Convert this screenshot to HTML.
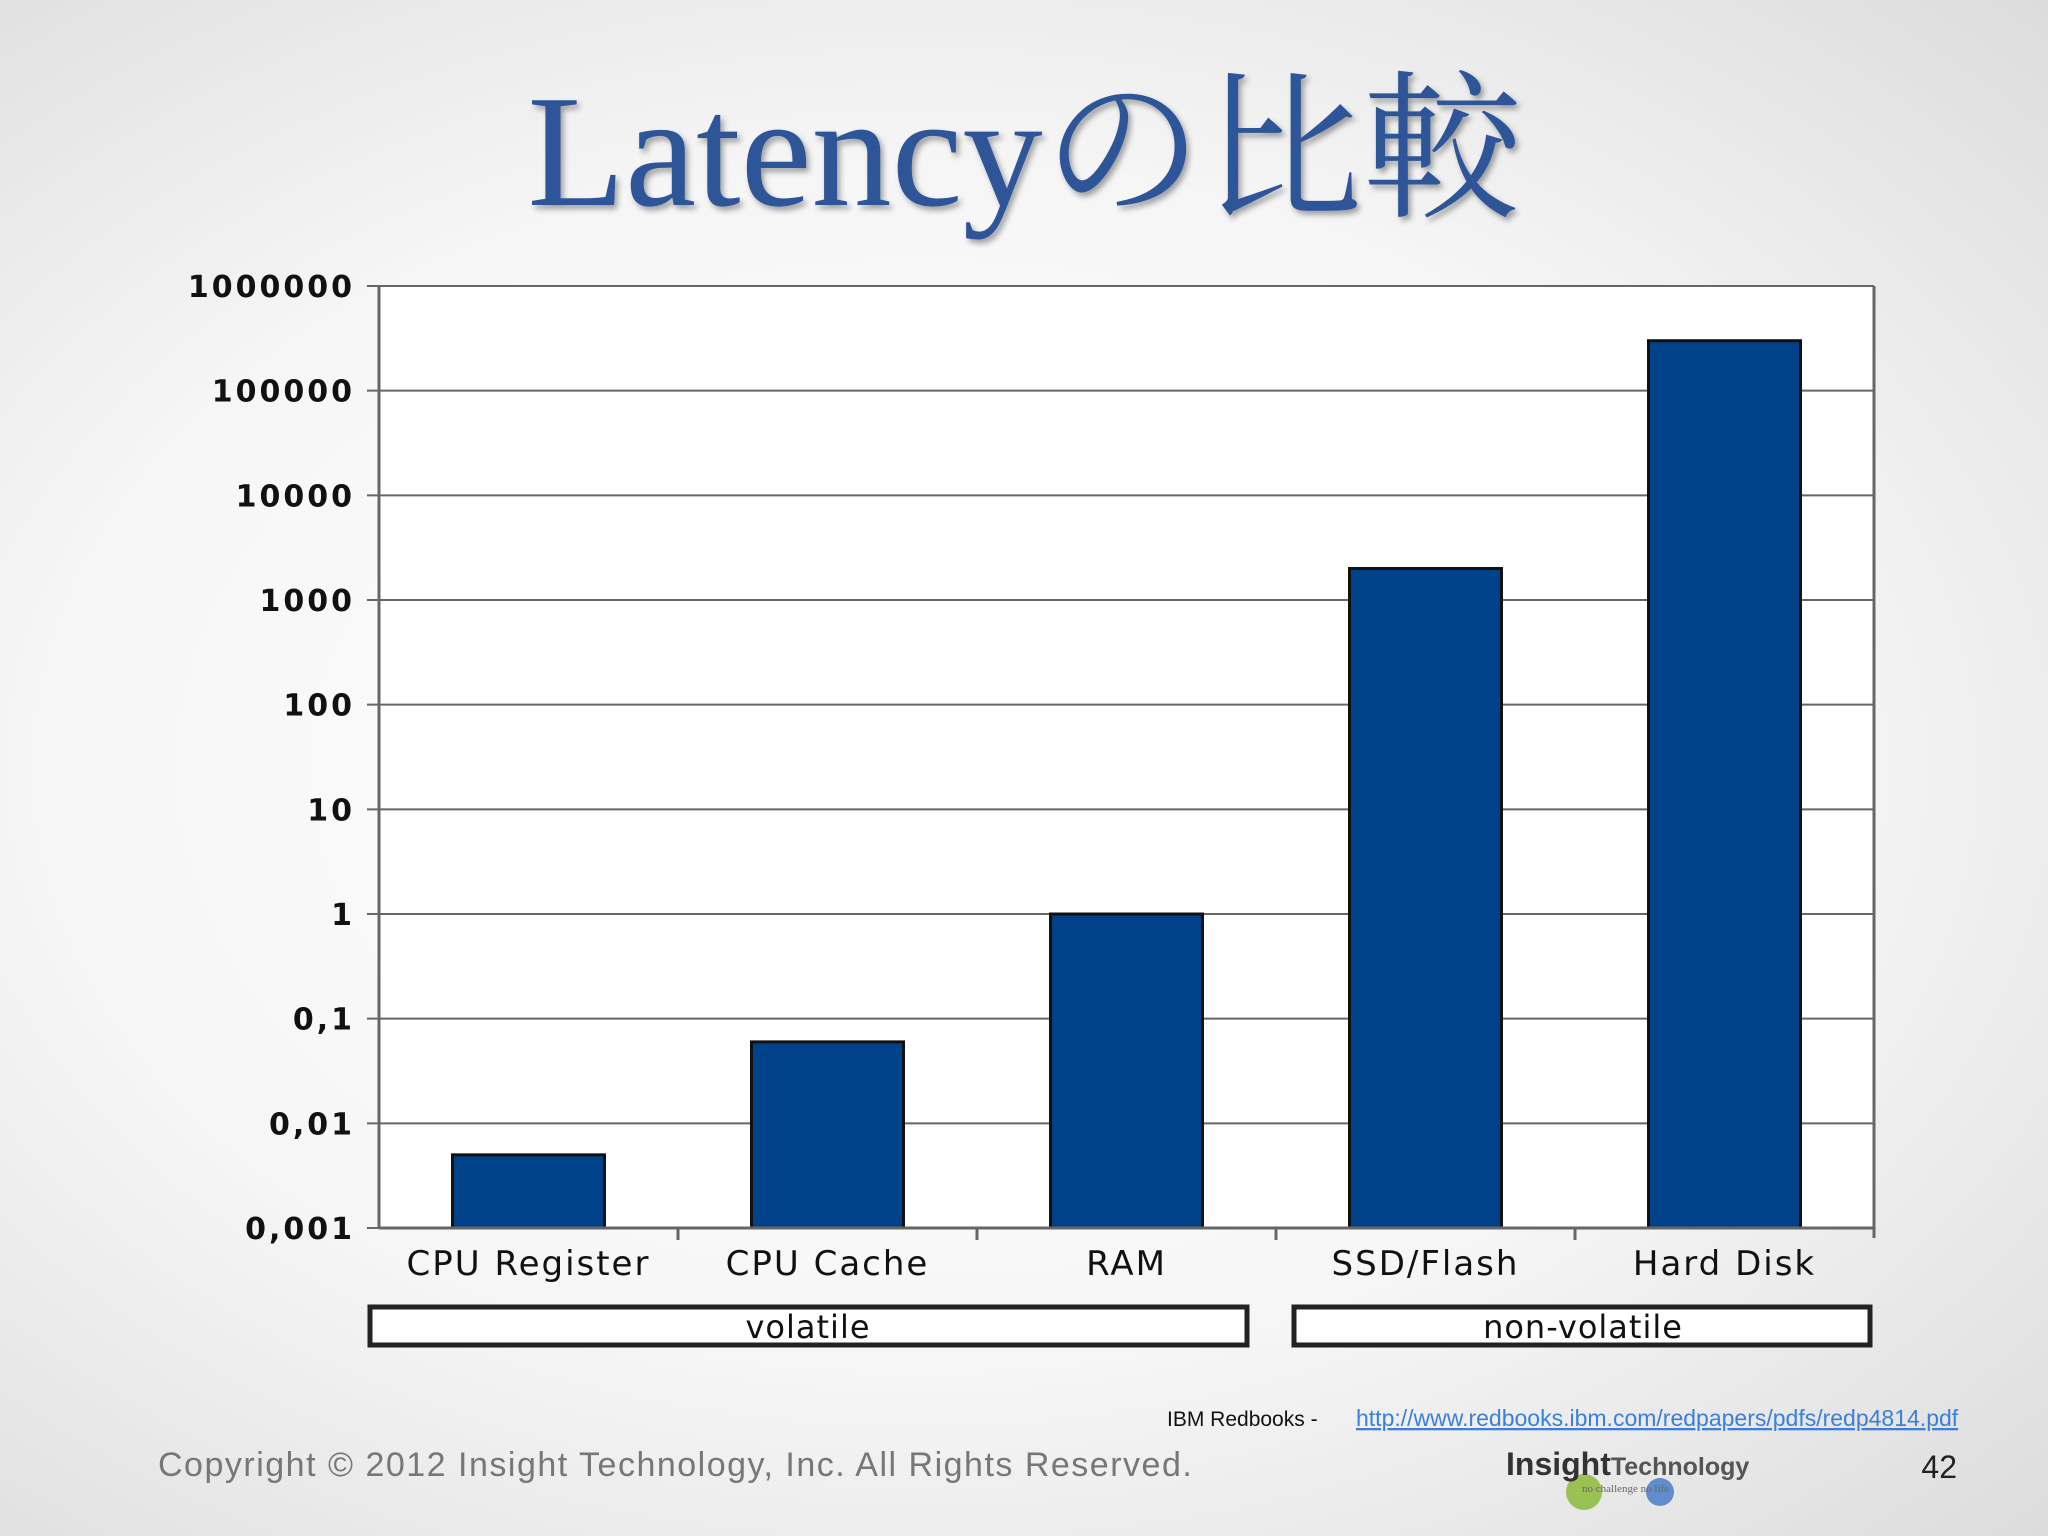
<!DOCTYPE html>
<html><head><meta charset="utf-8"><style>
html,body{margin:0;padding:0}
body{width:2048px;height:1536px;overflow:hidden;background:radial-gradient(ellipse at 45% 50%,#ffffff 0%,#f6f6f6 55%,#dcdcdc 100%);font-family:"Liberation Sans","Noto Sans CJK JP",sans-serif;position:relative}
</style></head><body>
<svg id="chart" width="2048" height="1536" viewBox="0 0 2048 1536" xmlns="http://www.w3.org/2000/svg" style="position:absolute;left:0;top:0">
<defs><filter id="sh" x="-5%" y="-5%" width="110%" height="120%"><feDropShadow dx="3" dy="4" stdDeviation="3" flood-color="#000" flood-opacity="0.35"/></filter></defs>
<text x="1025" y="205" text-anchor="middle" font-family="Liberation Serif, Noto Serif CJK SC, serif" font-size="160" fill="#2f5597" filter="url(#sh)">Latencyの比較</text>
<rect x="379" y="286" width="1495" height="942" fill="#fff"/>
<g id="grid"></g><g id="bars"></g><g id="axes"></g>
<rect x="370" y="1307" width="877" height="38" fill="#fff" stroke="#222" stroke-width="5"/>
<text x="808" y="1338" text-anchor="middle" font-size="32" font-family="DejaVu Sans, sans-serif" letter-spacing="1" fill="#111">volatile</text>
<rect x="1294" y="1307" width="576" height="38" fill="#fff" stroke="#222" stroke-width="5"/>
<text x="1583" y="1338" text-anchor="middle" font-size="32" font-family="DejaVu Sans, sans-serif" letter-spacing="1" fill="#111">non-volatile</text>
<text x="1167" y="1426" font-size="21" fill="#111">IBM Redbooks   -</text>
<text x="1356" y="1426" font-size="23" fill="#3b7fd8" text-decoration="underline">http://www.redbooks.ibm.com/redpapers/pdfs/redp4814.pdf</text>
<text x="158" y="1476" font-size="34" letter-spacing="1.5" fill="#777">Copyright © 2012 Insight Technology, Inc. All Rights Reserved.</text>
<circle cx="1584" cy="1492" r="18" fill="#8db83a" opacity="0.85"/>
<circle cx="1660" cy="1492" r="14" fill="#4a7cc8" opacity="0.85"/>
<text x="1506" y="1475" font-size="32" font-weight="bold" fill="#333">Insight<tspan font-size="25" font-weight="bold" fill="#555">Technology</tspan></text>
<text x="1582" y="1492" font-size="11" fill="#666" font-family="Liberation Serif, serif">no challenge no life</text>
<text x="1957" y="1478" text-anchor="end" font-size="32" fill="#222">42</text>
</svg>
<script>
const categories=["CPU Register","CPU Cache","RAM","SSD/Flash","Hard Disk"];
const latencies=[0.005,0.06,1,2000,300000];
const tickValues=[0.001,0.01,0.1,1,10,100,1000,10000,100000,1000000];
const tickLabels=["0,001","0,01","0,1","1","10","100","1000","10000","100000","1000000"];
const NS="http://www.w3.org/2000/svg";
const L=379,R=1874,T=286,B=1228,minE=-3,maxE=6;
const y=v=>B-(Math.log10(v)-minE)/(maxE-minE)*(B-T);
const bw=(R-L)/categories.length;
const xc=i=>L+bw*(i+0.5);
function mk(tag,attrs,parent){const e=document.createElementNS(NS,tag);for(const k in attrs)e.setAttribute(k,attrs[k]);parent.appendChild(e);return e;}
const grid=document.getElementById('grid'),bars=document.getElementById('bars'),axes=document.getElementById('axes');
tickValues.forEach((v,i)=>{
  const g=mk('line',{x1:L-12,x2:R,y1:y(v),y2:y(v),stroke:'#666','stroke-width':2},grid);
  
  
  const t=mk('text',{x:L-24,y:y(v)+11,'text-anchor':'end','font-size':30,'font-family':'DejaVu Sans, sans-serif','letter-spacing':3,'font-weight':'bold',fill:'#111'},axes);
  t.textContent=tickLabels[i];
  
  
});
latencies.forEach((v,i)=>{
  const w=152;
  const r=mk('rect',{x:xc(i)-w/2,y:y(v),width:w,height:B-y(v),fill:'#00428a',stroke:'#111','stroke-width':3},bars);
  
  
  const t=mk('text',{x:xc(i),y:B+47,'text-anchor':'middle','font-size':34,'font-family':'DejaVu Sans, sans-serif','letter-spacing':2,fill:'#111'},axes);
  t.textContent=categories[i];
  
  
});
const ya=mk('line',{x1:L,x2:L,y1:T,y2:B,stroke:'#666','stroke-width':3},axes);


const ra=mk('line',{x1:R,x2:R,y1:T,y2:B+10,stroke:'#666','stroke-width':3},axes);


const xa=mk('line',{x1:L,x2:R,y1:B,y2:B,stroke:'#666','stroke-width':3},axes);


for(let i=1;i<categories.length;i++){
  const tk=mk('line',{x1:L+bw*i,x2:L+bw*i,y1:B,y2:B+12,stroke:'#666','stroke-width':3},axes);
  
  
}
</script>
</body></html>
